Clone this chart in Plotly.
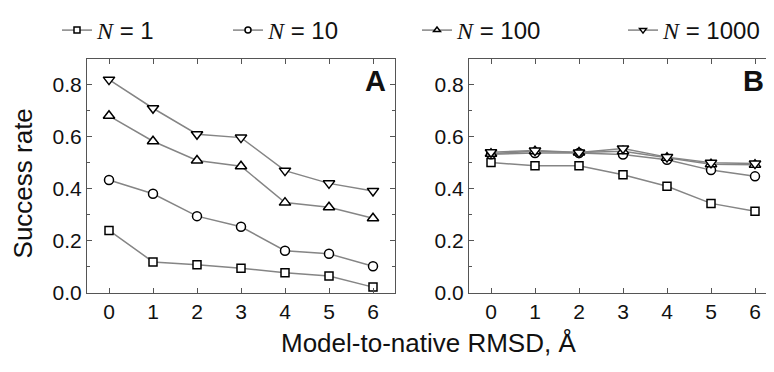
import plotly.graph_objects as go

# ---- data ----
rmsd = [0, 1, 2, 3, 4, 5, 6]
legend_labels = ["1", "10", "100", "1000"]

# Panel A
a_n1 = [0.240, 0.119, 0.108, 0.095, 0.077, 0.065, 0.022]
a_n10 = [0.434, 0.381, 0.295, 0.254, 0.162, 0.150, 0.102]
a_n100 = [0.681, 0.583, 0.509, 0.487, 0.347, 0.329, 0.287]
a_n1000 = [0.820, 0.710, 0.610, 0.597, 0.470, 0.421, 0.392]

# Panel B
b_n1 = [0.501, 0.489, 0.489, 0.454, 0.410, 0.344, 0.314]
b_n10 = [0.533, 0.538, 0.538, 0.532, 0.512, 0.472, 0.448]
b_n100 = [0.535, 0.545, 0.540, 0.545, 0.520, 0.495, 0.493]
b_n1000 = [0.541, 0.547, 0.540, 0.555, 0.522, 0.500, 0.497]

y_ticks = [0.0, 0.2, 0.4, 0.6, 0.8]
x_ticks = [0, 1, 2, 3, 4, 5, 6]

symbols = ["square", "circle", "triangle-up", "triangle-down"]
sizes = [8, 9, 10, 10]

# the page body has an 8px default margin on every side; size the figure so
# the whole page fits the 774x372 window exactly
OFF = 8
W, H = 774 - 2 * OFF, 372 - 2 * OFF


def fx(px):
    return (px - OFF) / W


def fy(py):
    return 1 - (py - OFF) / H


fig = go.Figure()

panels = [
    ("x", "y", [a_n1, a_n10, a_n100, a_n1000]),
    ("x2", "y2", [b_n1, b_n10, b_n100, b_n1000]),
]
for xa, ya, series in panels:
    for vals, sym, sz in zip(series, symbols, sizes):
        fig.add_trace(go.Scatter(
            x=rmsd, y=vals, xaxis=xa, yaxis=ya, mode="lines+markers",
            line=dict(color="#858585", width=1.5),
            marker=dict(symbol=sym, size=sz, color="white",
                        line=dict(color="black", width=1.5)),
            showlegend=False, hoverinfo="skip"))

# legend entries, each in its own legend box
legend_ids = ["legend", "legend2", "legend3", "legend4"]
text_starts = [97, 268, 457, 663]
for lab, sym, lid in zip(legend_labels, symbols, legend_ids):
    fig.add_trace(go.Scatter(
        x=[None], y=[None], mode="lines+markers", legend=lid,
        name="<span style='font-family:Liberation Serif'><i>N</i></span> = " + lab,
        line=dict(color="#858585", width=1.5),
        marker=dict(symbol=sym, size=6, color="white",
                    line=dict(color="black", width=1.5))))

axis_common = dict(
    showline=True, linecolor="#555", linewidth=1, ticks="inside",
    tickcolor="#555", ticklen=5, tickwidth=1, showgrid=False, zeroline=False,
    tickfont=dict(family="Liberation Sans, Arial", size=21, color="#111"),
)

px_per_unit = (395 - 87) / 7.0
xA = (fx(87), fx(395))
xB = (fx(469), 1.0)
yD = (fy(301), fy(56))
xB_right_px = OFF + W

layout_legends = {}
for lid, ts in zip(legend_ids, text_starts):
    layout_legends[lid] = dict(
        orientation="h", x=fx(ts - 40), xanchor="left",
        y=fy(26), yanchor="middle",
        font=dict(family="Liberation Sans, Arial", size=24, color="#111"),
        bgcolor="rgba(0,0,0,0)")

fig.update_layout(
    width=W, height=H,
    margin=dict(l=0, r=0, t=0, b=0),
    paper_bgcolor="white", plot_bgcolor="white",
    xaxis=dict(domain=xA, range=[-0.5, 6.5], tickvals=x_ticks,
               mirror="ticks", anchor="y", **axis_common),
    yaxis=dict(domain=yD, range=[0, 0.9], tickvals=y_ticks, tickformat=".1f",
               mirror="ticks", anchor="x",
               minor=dict(dtick=0.1, ticks="inside", ticklen=3, tickcolor="#555"),
               **axis_common),
    xaxis2=dict(domain=xB,
                range=[-0.5, -0.5 + (xB_right_px - 469) / px_per_unit],
                tickvals=x_ticks, anchor="y2", mirror="ticks", **axis_common),
    yaxis2=dict(domain=yD, range=[0, 0.9], tickvals=y_ticks, tickformat=".1f",
                anchor="x2",
                minor=dict(dtick=0.1, ticks="inside", ticklen=3, tickcolor="#555"),
                **axis_common),
    font=dict(family="Liberation Sans, Arial", color="#111"),
    **layout_legends,
)

annots = [
    dict(text="Success rate", x=fx(22.5), y=fy(187), textangle=-90,
         font=dict(size=26)),
    dict(text="Model-to-native RMSD, Å", x=fx(428), y=fy(354),
         font=dict(size=26)),
    dict(text="<b>A</b>", x=fx(388), y=fy(79), xanchor="right",
         font=dict(size=29)),
    dict(text="<b>B</b>", x=fx(766), y=fy(79), xanchor="right",
         font=dict(size=29)),
]
for a in annots:
    a.setdefault("xanchor", "center")
    fig.add_annotation(xref="paper", yref="paper", showarrow=False,
                       yanchor="middle", **a)

fig.write_html("out.html")
